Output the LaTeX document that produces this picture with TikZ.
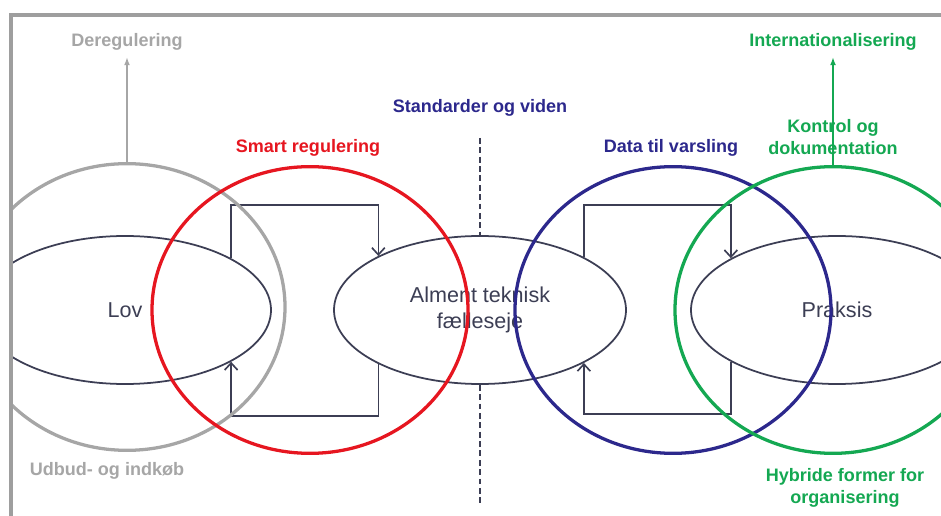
\documentclass[tikz,border=0pt]{standalone}
\usepackage{fontspec}
\setmainfont{Liberation Sans}
\usetikzlibrary{shapes.geometric,arrows.meta}

\definecolor{graa}{RGB}{166,166,166}
\definecolor{roed}{RGB}{230,22,32}
\definecolor{blaa}{RGB}{44,40,140}
\definecolor{groen}{RGB}{20,168,82}
\definecolor{skifer}{RGB}{60,62,84}
\definecolor{ramme}{RGB}{158,158,158}

\tikzset{
  >={Straight Barb[length=6pt,width=11pt]},
  felt/.style={ellipse, draw=skifer, line width=1.5pt, minimum width=8.76cm,
    minimum height=4.44cm, inner sep=0pt, align=center, text=skifer,
    font=\fontsize{18.4}{21.5}\selectfont},
  ring/.style={ellipse, draw=#1, line width=2.8pt, minimum width=9.48cm,
    minimum height=8.6cm, inner sep=0pt},
  etiket/.style={text=#1, align=center,
    font=\bfseries\fontsize{15.4}{18.8}\selectfont},
  sloejfe/.style={draw=skifer, line width=1.4pt}
}

\begin{document}
\begin{tikzpicture}[x=0.03cm,y=-0.03cm]
\useasboundingbox (0,0) rectangle (941,516);
\begin{scope}
\clip (12.5,16.5) rectangle (941,516);
% ellipses
\node[felt] (lov) at (125,310) {Lov};
\node[felt] (alm) at (480,310) {Alment teknisk\\fælleseje};
\node[felt] (prak) at (837,310) {Praksis};
% loops between them
\draw[sloejfe,->] (lov.26) -- ++(0,-53) -| (alm.152);
\draw[sloejfe,->] (alm.208) -- ++(0,52) -| (lov.334);
\draw[sloejfe,->] (alm.27) -- ++(0,-52) -| (prak.154);
\draw[sloejfe,->] (prak.206) -- ++(0,52) -| (alm.333);
% dashed divider
\coordinate (deltop) at (480,138);
\coordinate (delbund) at (480,505);
\draw[skifer,line width=1.2pt,dash pattern=on 5pt off 3pt] (deltop) -- (alm.north);
\draw[skifer,line width=1.2pt,dash pattern=on 5pt off 3pt] (alm.south) -- (delbund);
% rings
\node[ring=graa] (graaring) at (127,307) {};
\node[ring=roed] (roedring) at (310,310) {};
\node[ring=blaa] (blaaring) at (673,310) {};
\node[ring=groen] (groenring) at (833,310) {};
% labels
\node[etiket=graa] (dereg) at (127,42) {Deregulering};
\node[etiket=graa] (udbud) at (107,471) {Udbud- og indkøb};
\node[etiket=roed] (smart) at (308,148) {Smart regulering};
\node[etiket=blaa] (std) at (480,108) {Standarder og viden};
\node[etiket=blaa] (data) at (671,148) {Data til varsling};
\node[etiket=groen] (intl) at (833,42) {Internationalisering};
\node[etiket=groen] (kontrol) at (833,137) {Kontrol og\\dokumentation};
\node[etiket=groen] (hybrid) at (845,488) {Hybride former for\\organisering};
\draw[graa,line width=1.4pt,-{Latex[length=7pt,width=5pt]},shorten >=2pt] (graaring.north) -- (dereg.south);
\draw[groen,line width=1.4pt,-{Latex[length=7pt,width=5pt]},shorten >=2pt] (groenring.north) -- (intl.south);
\end{scope}
% frame
\draw[ramme,line width=2.6pt] (11,516) -- (11,15) -- (941,15);
\end{tikzpicture}
\end{document}
